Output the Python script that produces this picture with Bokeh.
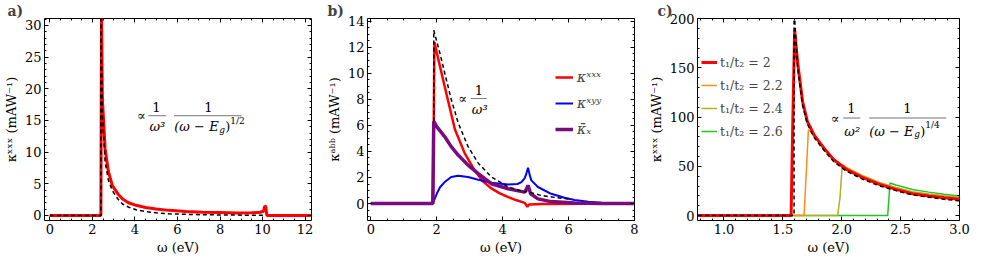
from bokeh.plotting import figure
from bokeh.layouts import row
from bokeh.models import (Label, LinearAxis, Range1d, Legend, LegendItem,
                          BoxAnnotation, FixedTicker, PrintfTickFormatter)
from bokeh.embed import file_html
from bokeh.resources import INLINE

# ---------------- data ----------------
a_w_red = [0, 2.38, 2.40, 2.43, 2.47, 2.6, 2.75, 2.94, 3.2, 3.42, 3.7, 4.05, 4.5, 5.0, 5.6,
           6.4, 7.2, 8.0, 8.8, 9.5, 9.9, 10.05, 10.1, 10.15, 10.2, 12.3]
a_k_red = [0, 0, 0, 31.5, 18.4, 10.5, 7.0, 4.7, 3.4, 2.6, 2.0, 1.6, 1.25, 1.0, 0.8,
           0.62, 0.5, 0.45, 0.4, 0.42, 0.5, 0.7, 1.5, 1.4, 0, 0]
a_w_fit = [0, 2.40, 2.40, 2.47, 2.6, 2.75, 2.94, 3.2, 3.42, 3.7, 4.05, 4.5, 5.0, 5.6, 6.4,
           7.2, 8.0, 8.8, 9.5, 10.1]
a_k_fit = [0, 0, 31.5, 16, 8.5, 5.6, 3.9, 2.6, 1.8, 1.3, 0.9, 0.6, 0.42, 0.26, 0.17,
           0.11, 0.08, 0.05, 0.04, 0.03]

b_w_xxx = [0, 1.89, 1.93, 2.0, 2.24, 2.55, 2.85, 3.15, 3.4, 3.66, 3.9, 4.17, 4.4, 4.67,
           4.75, 4.8, 5.2, 8]
b_k_xxx = [0, 0, 12.4, 11.6, 9.0, 5.7, 3.85, 2.55, 1.7, 1.16, 0.8, 0.5, 0.27, 0.05,
           -0.25, -0.08, -0.04, 0]
b_w_xyy = [0, 1.87, 1.93, 2.0, 2.1, 2.24, 2.44, 2.65, 2.95, 3.26, 3.66, 4.17, 4.45, 4.57,
           4.67, 4.72, 4.77, 4.82, 4.87, 5.07, 5.47, 5.88, 6.18, 6.6, 7.0, 7.5, 8]
b_k_xyy = [0, 0, 0.3, 0.75, 1.25, 1.65, 2.04, 2.14, 2.04, 1.83, 1.6, 1.47, 1.5, 1.65,
           1.95, 2.3, 2.74, 2.2, 1.78, 1.27, 0.75, 0.44, 0.28, 0.14, 0.07, 0.03, 0]
b_w_bar = [0, 1.88, 1.91, 2.0, 2.24, 2.44, 2.65, 2.95, 3.26, 3.66, 4.17, 4.67, 4.72, 4.77,
           4.85, 5.07, 5.47, 6.18, 7.0, 8]
b_k_bar = [0, 0, 6.3, 5.9, 5.14, 4.37, 3.72, 2.95, 2.3, 1.52, 1.14, 0.88, 1.1, 1.4,
           0.75, 0.36, 0.15, 0.05, 0.01, 0]
b_w_fit = [1.91, 1.91, 2.09, 2.24, 2.44, 2.65, 2.95, 3.26, 3.66, 4.17, 4.67, 4.72, 4.77,
           5.17, 5.5, 5.88, 6.0]
b_k_fit = [6.3, 13.3, 11.6, 10.05, 8.0, 6.2, 4.37, 3.1, 2.04, 1.27, 0.88, 0.95, 0.9,
           0.62, 0.5, 0.38, 0.35]

c_w_20 = [0.78, 1.57, 1.585, 1.6, 1.625, 1.667, 1.708, 1.764, 1.847, 1.93, 2.04, 2.18,
          2.32, 2.46, 2.6, 2.74, 2.87, 3.0]
c_k_20 = [0, 0, 100, 188, 156, 116, 95.6, 82, 68.7, 56.9, 46.8, 38.4, 31.6, 26.6, 22.2,
          19.9, 18, 16.5]
c_w_22 = [0.78, 1.68, 1.717, 1.764, 1.847, 1.93, 2.04, 2.18, 2.32, 2.46, 2.6, 2.74, 2.87, 3.0]
c_k_22 = [0, 0, 87, 83, 69.5, 57.7, 47.6, 39.2, 32.4, 27.4, 23, 20.6, 18.8, 17.3]
c_w_24 = [0.78, 1.965, 1.985, 2.005, 2.04, 2.18, 2.32, 2.46, 2.6, 2.74, 2.87, 3.0]
c_k_24 = [0, 0, 18, 52, 48.8, 40.4, 33.6, 28.6, 24.2, 21.9, 20, 18.5]
c_w_26 = [0.78, 2.39, 2.41, 2.46, 2.6, 2.74, 2.87, 3.0]
c_k_26 = [0, 0, 33, 31, 26.5, 23.8, 21.6, 19.8]
c_w_fit = [0.78, 1.595, 1.595, 1.625, 1.667, 1.708, 1.764, 1.847, 1.93, 2.04, 2.18, 2.32,
           2.46, 2.6, 2.74, 2.87, 3.0]
c_k_fit = [0, 0, 210, 150, 112, 93, 79.5, 66.5, 55, 45, 36.8, 30.2, 25.3, 21, 18.6, 16.5, 15]

a_xticks = [0, 2, 4, 6, 8, 10, 12]
a_yticks = [0, 5, 10, 15, 20, 25, 30]
b_xticks = [0, 2, 4, 6, 8]
b_yticks = [0, 2, 4, 6, 8, 10, 12, 14]
c_xticks = [1.0, 1.5, 2.0, 2.5, 3.0]
c_yticks = [0, 50, 100, 150, 200]
c_legend = ["t\u2081/t\u2082 = 2", "t\u2081/t\u2082 = 2.2",
            "t\u2081/t\u2082 = 2.4", "t\u2081/t\u2082 = 2.6"]
b_legend = ["\u03baˣˣˣ", "\u03baˣʸʸ", "\u03ba\u0304\u2093"]

FONT = "DejaVu Serif"
FS = "13px"


def minor(lo, hi, step):
    n = int(round((hi - lo) / step))
    return [round(lo + i * step, 6) for i in range(n + 1)]


def make_fig(fw, xr, yr, bl, br, xt, xm, yt, ym, ylabel, tag, tag_off, xfmt=None):
    p = figure(frame_width=fw, frame_height=202, x_range=Range1d(*xr), y_range=Range1d(*yr),
               output_backend="svg", toolbar_location=None,
               min_border_left=bl, min_border_right=br, min_border_top=12,
               min_border_bottom=36, outline_line_color="black", outline_line_width=1,
               background_fill_color="white", border_fill_color="white")
    p.title.text = tag
    p.title.text_font = FONT
    p.title.text_font_size = "14px"
    p.title.text_font_style = "bold"
    p.title.align = "left"
    p.title.offset = tag_off
    p.title.standoff = 0
    p.grid.visible = False
    p.xaxis.ticker = FixedTicker(ticks=xt, minor_ticks=xm)
    p.yaxis.ticker = FixedTicker(ticks=yt, minor_ticks=ym)
    if xfmt:
        p.xaxis.formatter = PrintfTickFormatter(format=xfmt)
    p.xaxis.axis_label = "\u03c9 (eV)"
    p.yaxis.axis_label = ylabel
    for ax in (p.xaxis[0], p.yaxis[0]):
        ax.major_label_text_font = FONT
        ax.major_label_text_font_size = FS
        ax.major_label_text_color = "black"
        ax.axis_label_text_font = FONT
        ax.axis_label_text_font_size = FS
        ax.axis_label_text_font_style = "normal"
        ax.axis_label_text_color = "black"
        ax.major_tick_in = 4
        ax.major_tick_out = 0
        ax.minor_tick_in = 2
        ax.minor_tick_out = 0
        ax.major_tick_line_color = "black"
        ax.minor_tick_line_color = "black"
        ax.axis_line_color = None
        ax.major_label_standoff = 3
        ax.axis_label_standoff = 3
    for place, t, m in (("above", xt, xm), ("right", yt, ym)):
        ax = LinearAxis(ticker=FixedTicker(ticks=t, minor_ticks=m),
                        major_label_overrides={v: "" for v in t},
                        major_label_standoff=0,
                        major_tick_in=4, major_tick_out=0, minor_tick_in=2,
                        minor_tick_out=0, axis_line_color=None,
                        major_tick_line_color="black", minor_tick_line_color="black")
        p.add_layout(ax, place)
    return p


def txt(p, x, y, s, dx=0, dy=0, size=FS, style="normal", align="center", base="middle"):
    p.add_layout(Label(x=x, y=y, x_offset=dx, y_offset=dy, text=s, text_font=FONT,
                       text_font_size=size, text_font_style=style, text_align=align,
                       text_baseline=base, text_color="black"))


def bar(p, x, y, dx0, dx1, xscale):
    p.add_layout(BoxAnnotation(left=x + dx0 / xscale, right=x + dx1 / xscale, top=y, bottom=y,
                               fill_alpha=0, line_color="black", line_width=1))


# ---------------- panel a ----------------
pa = make_fig(267, (-0.25, 12.3), (-0.8, 31.1), 37, 9, a_xticks, minor(0, 12, 0.5),
              a_yticks, minor(0, 31, 1), "\u03baˣˣˣ (mAW\u207b\u00b9)", "a)", -37)
pa.line(a_w_red, a_k_red, line_color="#ff0000", line_width=3)
pa.line(a_w_fit, a_k_fit, line_color="black", line_width=1.5, line_dash="4 3")
sx = 21.4
ax0, ay0 = 4.3, 15.75
txt(pa, ax0, ay0, "\u221d")
txt(pa, ax0, ay0, "1", dx=15, dy=9)
bar(pa, ax0, ay0, 7, 25, sx)
txt(pa, ax0, ay0, "\u03c9\u00b3", dx=16, dy=-11, style="italic")
txt(pa, ax0, ay0, "1", dx=67, dy=9)
bar(pa, ax0, ay0, 33, 101, sx)
txt(pa, ax0, ay0, "(\u03c9 \u2212 E", dx=33, dy=-11, style="italic", align="left")
txt(pa, ax0, ay0, "g", dx=78, dy=-14, size="9px", style="italic", align="left")
txt(pa, ax0, ay0, ")", dx=84, dy=-11, align="left")
txt(pa, ax0, ay0, "1/2", dx=89, dy=-5, size="9px", align="left")

# ---------------- panel b ----------------
pb = make_fig(267, (-0.1, 8.0), (-1.3, 14.2), 47, 11, b_xticks, minor(0, 8, 0.5),
              b_yticks, minor(-1, 14, 0.5), "\u03baᵃᵇᵇ (mAW\u207b\u00b9)", "b)", -40)
r1 = pb.line(b_w_xxx, b_k_xxx, line_color="#ff0000", line_width=2.5)
r2 = pb.line(b_w_xyy, b_k_xyy, line_color="#0000ff", line_width=2)
r3 = pb.line(b_w_bar, b_k_bar, line_color="#7a0a80", line_width=3.5)
pb.line(b_w_fit, b_k_fit, line_color="black", line_width=1.5, line_dash="4 3")
leg_b = Legend(items=[LegendItem(label=b_legend[0], renderers=[r1]),
                      LegendItem(label=b_legend[1], renderers=[r2]),
                      LegendItem(label=b_legend[2], renderers=[r3])],
               location=(188, 81), padding=0, margin=0, spacing=6, glyph_width=18,
               glyph_height=20, label_height=20, label_standoff=4,
               label_text_font=FONT, label_text_font_size="14px",
               label_text_font_style="italic", background_fill_alpha=0,
               border_line_alpha=0)
pb.add_layout(leg_b)
bx0, by0 = 2.79, 8.06
txt(pb, bx0, by0, "\u221d")
txt(pb, bx0, by0, "1", dx=16, dy=9)
bar(pb, bx0, by0, 8, 24, 33.0)
txt(pb, bx0, by0, "\u03c9\u00b3", dx=17, dy=-11, style="italic")

# ---------------- panel c ----------------
pc = make_fig(262, (0.775, 3.0), (-5, 200), 50, 13, c_xticks, minor(0.8, 3.0, 0.1),
              c_yticks, minor(0, 200, 10), "\u03baˣˣˣ (mAW\u207b\u00b9)", "c)", -40,
              xfmt="%.1f")
g4 = pc.line(c_w_26, c_k_26, line_color="#22c422", line_width=1.5)
g3 = pc.line(c_w_24, c_k_24, line_color="#b0b020", line_width=1.5)
g2 = pc.line(c_w_22, c_k_22, line_color="#ff8c1a", line_width=1.5)
g1 = pc.line(c_w_20, c_k_20, line_color="#ff0000", line_width=3)
pc.line(c_w_fit, c_k_fit, line_color="black", line_width=1.5, line_dash="4 3")
leg_c = Legend(items=[LegendItem(label=c_legend[0], renderers=[g1]),
                      LegendItem(label=c_legend[1], renderers=[g2]),
                      LegendItem(label=c_legend[2], renderers=[g3]),
                      LegendItem(label=c_legend[3], renderers=[g4])],
               location=(4, 80), padding=0, margin=0, spacing=5, glyph_width=16,
               glyph_height=18, label_height=18, label_standoff=3,
               label_text_font=FONT, label_text_font_size="12.5px",
               background_fill_alpha=0, border_line_alpha=0)
pc.add_layout(leg_c)
cx0, cy0 = 1.945, 99.0
txt(pc, cx0, cy0, "\u221d")
txt(pc, cx0, cy0, "1", dx=16, dy=10)
bar(pc, cx0, cy0, 8, 25, 117.75)
txt(pc, cx0, cy0, "\u03c9\u00b2", dx=17, dy=-13, style="italic")
txt(pc, cx0, cy0, "1", dx=72, dy=10)
bar(pc, cx0, cy0, 34, 111, 117.75)
txt(pc, cx0, cy0, "(\u03c9 \u2212 E", dx=34, dy=-13, style="italic", align="left")
txt(pc, cx0, cy0, "g", dx=79, dy=-16, size="9px", style="italic", align="left")
txt(pc, cx0, cy0, ")", dx=85, dy=-13, align="left")
txt(pc, cx0, cy0, "1/4", dx=90, dy=-7, size="9px", align="left")

layout = row(pa, pb, pc)
open("out.html", "w").write(file_html(layout, INLINE))
